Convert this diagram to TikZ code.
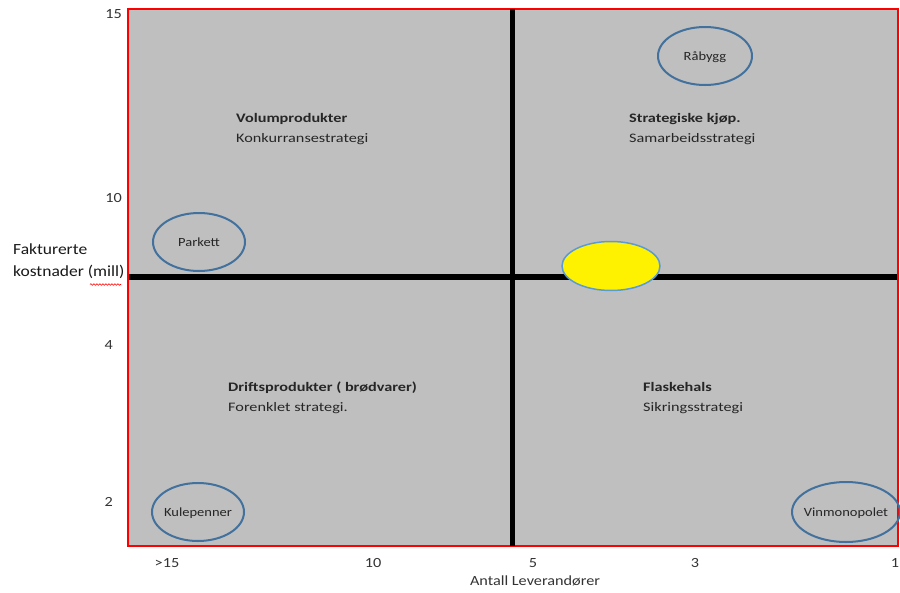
\documentclass[tikz,border=0pt]{standalone}
\usepackage{fontspec}
\usepackage{graphicx}
\setmainfont{Carlito}
\usetikzlibrary{decorations.pathmorphing}
\definecolor{panel}{HTML}{BFBFBF}
\definecolor{ringblue}{HTML}{41719C}
\definecolor{lightring}{HTML}{5B9BD5}
\newcommand\qx[1]{\scalebox{1.25}[1]{#1}}
\newcommand\tx[1]{\scalebox{1.16}[1]{#1}}
\newcommand\ix[1]{\scalebox{1.16}[1]{#1}}
\newcommand\yx[1]{\scalebox{1.13}[1]{#1}}
\tikzset{
  quadtxt/.style={anchor=north west, align=left, font=\fontsize{13}{20}\selectfont, inner sep=0pt, text=black!85},
  ticktxt/.style={font=\fontsize{14}{15}\selectfont, text=black!80, inner sep=0pt},
  itemtxt/.style={font=\fontsize{12.5}{14}\selectfont, inner sep=0pt, text=black!85},
  divider/.style={line width=5pt, black}
}
\begin{document}
\begin{tikzpicture}[x=1pt,y=-1pt]
\useasboundingbox (0,0) rectangle (900,592);
% panel
\path[fill=panel, draw=red, line width=2pt] (128,9) rectangle (898,546);
\coordinate (vt) at (512,9);
\coordinate (vb) at (512,546);
\coordinate (hl) at (129,277);
\coordinate (hr) at (897,277);
\draw[divider] (vt) -- (vb);
\draw[line width=6pt] (hl) -- (hr);
% ellipses
\draw[draw=ringblue, line width=2pt] (199,242) ellipse [x radius=46, y radius=29];
\node[itemtxt] (parkett) at (199,242) {\ix{Parkett}};
\draw[draw=ringblue, line width=2pt] (705,56) ellipse [x radius=47, y radius=29];
\node[itemtxt] (rabygg) at (705,57) {\ix{Råbygg}};
\draw[draw=lightring, fill=yellow, line width=1.5pt] (611,266) ellipse [x radius=49, y radius=24.5];
\draw[draw=ringblue, line width=2pt] (198,512) ellipse [x radius=46, y radius=29];
\node[itemtxt] (kule) at (198,513) {\ix{Kulepenner}};
\draw[draw=ringblue, line width=2pt] (846,512) ellipse [x radius=54, y radius=30];
\node[itemtxt] (vin) at (846,513) {\ix{Vinmonopolet}};
% quadrant texts
\node[quadtxt] (vol) at (236,113) {\qx{\textbf{Volumprodukter}}\\\qx{Konkurransestrategi}};
\node[quadtxt] (strat) at (629,113) {\qx{\textbf{Strategiske kjøp.}}\\\qx{Samarbeidsstrategi}};
\node[quadtxt] (drift) at (228,382) {\qx{\textbf{Driftsprodukter ( brødvarer)}}\\\qx{Forenklet strategi.}};
\node[quadtxt] (flask) at (643,382) {\qx{\textbf{Flaskehals}}\\\qx{Sikringsstrategi}};
% y ticks
\node[ticktxt, anchor=east] (y15) at (122,14) {\tx{15}};
\node[ticktxt, anchor=east] (y10) at (122,198) {\tx{10}};
\node[ticktxt, anchor=east] (y4) at (113,345) {\tx{4}};
\node[ticktxt, anchor=east] (y2) at (113,502) {\tx{2}};
% x ticks
\node[ticktxt] (x15) at (167,563) {\tx{>15}};
\node[ticktxt] (x10) at (373,563) {\tx{10}};
\node[ticktxt] (x5) at (533,563) {\tx{5}};
\node[ticktxt] (x3) at (695,563) {\tx{3}};
\node[ticktxt] (x1) at (895,563) {\tx{1}};
\node[ticktxt] (xlab) at (535,581) {\tx{Antall Leverandører}};
% y label
\node[anchor=north west, align=left, inner sep=0pt, font=\fontsize{15.5}{22}\selectfont, text=black!90] (ylab) at (13,244) {\yx{Fakturerte}\\\yx{kostnader (mill)}};
\draw[red, line width=0.6pt, decorate, decoration={snake, amplitude=0.8pt, segment length=3pt}] (90,284.5) -- (121,284.5);
\end{tikzpicture}
\end{document}
